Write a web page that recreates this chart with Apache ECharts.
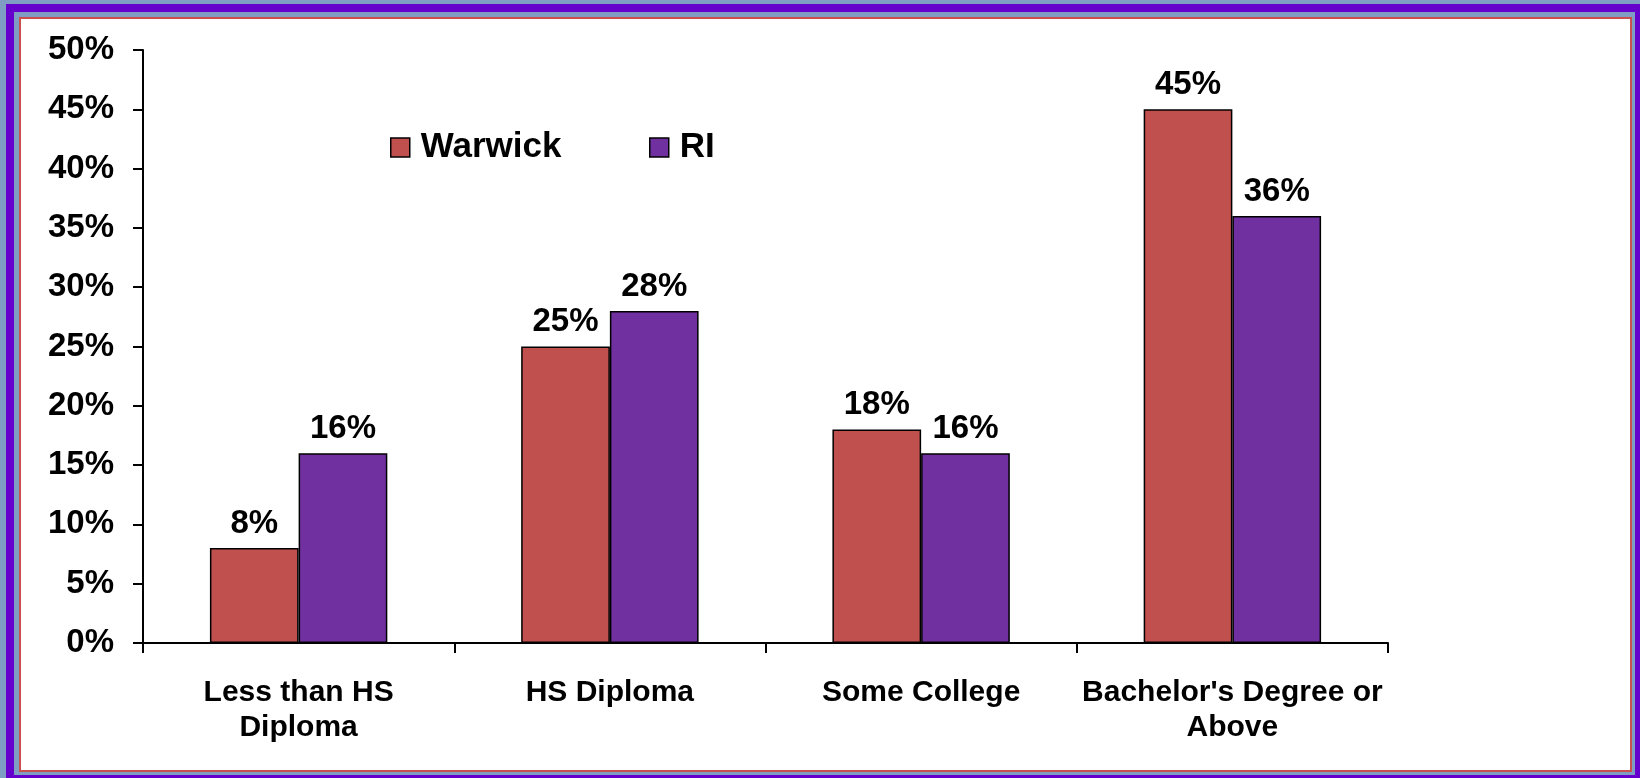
<!DOCTYPE html>
<html>
<head>
<meta charset="utf-8">
<script src="https://cdn.jsdelivr.net/npm/echarts@6/dist/echarts.min.js"></script>
<style>
  html, body { margin:0; padding:0; width:1640px; height:778px; overflow:hidden; background:#7F9DC2; }
  #purple { position:absolute; left:6px; top:4px; width:1634px; height:774px; box-sizing:border-box;
            border-left:8px solid #6600CC; border-top:8px solid #6600CC; border-right:5px solid #6600CC; border-bottom:3px solid #6600CC; background:#7F9DC2; }
  #inner { position:absolute; left:19px; top:17px; width:1613px; height:755px; box-sizing:border-box;
           border:2px solid #C9504F; background:#ffffff; }
  #chart { position:absolute; left:0; top:0; width:1640px; height:778px; }
</style>
</head>
<body>
<div id="purple"></div>
<div id="inner"></div>
<div id="chart"></div>
<script>
const categories = ['Less than HS\nDiploma', 'HS Diploma', 'Some College', "Bachelor's Degree or\nAbove"];
const warwick = [8, 25, 18, 45];
const ri = [16, 28, 16, 36];
const seriesNames = ['Warwick', 'RI'];
const yTicks = { min: 0, max: 50, interval: 5 };

const font = 'Liberation Sans, Arial, sans-serif';
const chart = echarts.init(document.getElementById('chart'), null, { renderer: 'canvas' });
const labelStyle = {
  show: true, position: 'top', distance: 8, formatter: '{c}%',
  color: '#000', fontSize: 33, fontWeight: 'bold', fontFamily: font
};
const legendText = { fontSize: 35, fontWeight: 'bold', color: '#000', fontFamily: font, padding: [0, 0, 0, 6] };
chart.setOption({
  backgroundColor: 'transparent',
  animation: false,
  grid: { left: 143, right: 252, top: 50, bottom: 135, containLabel: false },
  legend: [
    { data: [seriesNames[0]], left: 390, top: 130, padding: 0, icon: 'rect', itemWidth: 19, itemHeight: 19,
      itemStyle: { borderColor: '#000', borderWidth: 1.5 }, textStyle: legendText },
    { data: [seriesNames[1]], left: 649, top: 130, padding: 0, icon: 'rect', itemWidth: 19, itemHeight: 19,
      itemStyle: { borderColor: '#000', borderWidth: 1.5 }, textStyle: legendText }
  ],
  xAxis: {
    type: 'category', data: categories,
    axisLine: { lineStyle: { color: '#000', width: 2 } },
    axisTick: { show: true, length: 10, lineStyle: { color: '#000', width: 2 } },
    axisLabel: { color: '#000', fontSize: 30, fontWeight: 'bold', fontFamily: font, lineHeight: 35, margin: 32, interval: 0 }
  },
  yAxis: {
    type: 'value', min: yTicks.min, max: yTicks.max, interval: yTicks.interval,
    axisLine: { show: true, lineStyle: { color: '#000', width: 2 } },
    axisTick: { show: true, length: 10, lineStyle: { color: '#000', width: 2 } },
    splitLine: { show: false },
    axisLabel: { color: '#000', fontSize: 33, fontWeight: 'bold', fontFamily: font, margin: 29, formatter: '{value}%' }
  },
  series: [
    { name: seriesNames[0], type: 'bar', data: warwick, barGap: '0%', barCategoryGap: '43%',
      itemStyle: { color: '#C0504D', borderColor: '#000', borderWidth: 1.5 }, label: labelStyle },
    { name: seriesNames[1], type: 'bar', data: ri, barGap: '0%', barCategoryGap: '43%',
      itemStyle: { color: '#7030A0', borderColor: '#000', borderWidth: 1.5 }, label: labelStyle }
  ]
});
</script>
</body>
</html>
